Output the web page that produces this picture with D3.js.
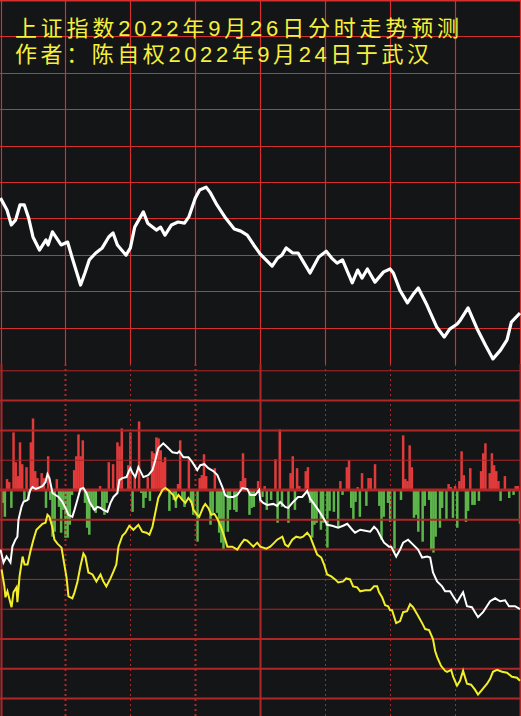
<!DOCTYPE html>
<html>
<head>
<meta charset="utf-8">
<script src="https://cdn.jsdelivr.net/npm/d3@7"></script>
<style>
  html, body { margin: 0; padding: 0; background: #141517; }
  svg { display: block; }
</style>
</head>
<body>
<div class="chart"></div>
<script>
// title lines
var titles = ["上证指数2022年9月26日分时走势预测", "作者：陈自权2022年9月24日于武汉"];

// minute ticks of the session (0 = 9:30, 120 = 11:30/13:00, 240 = 15:00)
var minuteTicks = [0, 30, 60, 90, 120, 150, 180, 210, 240];

// upper panel: forecast price line [minute, level] (panel units 0..100)
var priceLine = [
    [0, 45.6], [3, 42.3], [5, 38.2], [7, 39.6], [9, 43.7], [11, 43.7], [13, 40.1], [15, 34.9],
    [18, 31.3], [21, 34.1], [22, 32.7], [24, 36.3], [28, 32.7], [31, 33.5], [33, 29.4], [37, 21.7],
    [39, 25.0], [41, 28.6], [44, 30.5], [47, 31.9], [50, 34.9], [52, 36.0], [54, 32.7], [58, 29.9],
    [60, 31.9], [62, 37.6], [66, 41.8], [68, 38.7], [72, 36.8], [74, 37.6], [76, 35.4], [79, 38.2],
    [82, 39.0], [85, 38.7], [87, 40.4], [90, 45.6], [92, 47.8], [95, 48.6], [97, 47.0], [100, 43.7],
    [104, 40.1], [108, 37.1], [111, 36.5], [114, 35.4], [117, 32.7], [120, 30.2],
    [125.5, 26.9], [128, 29.1], [130, 29.9], [132, 31.9], [135, 30.5], [137.5, 30.5], [140, 28.0],
    [143, 25.0], [147, 29.4], [150.5, 31.0], [153, 29.1], [155.5, 27.7], [158, 28.6], [160, 25.8],
    [162.5, 22.3], [165, 25.8], [167, 23.6], [169.5, 26.1], [173, 22.5], [177, 25.3], [180, 26.1],
    [181.5, 25.0], [184.5, 20.3], [188, 16.8], [190.5, 19.0], [193, 20.9], [197, 16.2], [201.5, 10.2],
    [205, 7.4], [207.5, 9.6], [211, 11.0], [212.5, 12.1], [216, 15.4], [220, 9.9], [224, 5.2],
    [227.5, 1.4], [231, 3.8], [234, 6.6], [236, 11.5], [240, 14.0]
];

// lower panel: per-minute buy/sell bars [minute, value]
var volumeBars = [
    [3, 11], [4, 8], [6, 58], [7, 28], [8, 14], [9, 48], [10, 26], [12, 23], [14, 48], [15, 72],
    [16, 19], [17, 12], [19, 17], [20, 12], [22, 34], [26, 11], [34, 20], [35, 34], [36, 56], [37, 34],
    [38, 50], [46, 4], [50, 28], [52, 26], [54, 48], [55, 44], [56, 62], [59, 25], [60, 58], [62, 14],
    [64, 69], [68, 13], [70, 39], [71, 37], [72, 53], [73, 52], [74, 40], [75, 28], [76, 33], [82, 6],
    [83, 50], [87, 33], [92, 12], [93, 15], [94, 36], [95, 14], [99, 22], [111, 9], [112, 37], [113, 12],
    [119, 9], [122, 4], [127, 31], [129, 61], [134, 17], [135, 34], [137, 22], [138, 4], [141, 19],
    [142, 23], [157, 9], [160, 23], [161, 30], [165, 3], [167, 17], [170, 12], [171, 12], [173, 26],
    [186, 55], [187, 11], [188, 9], [189, 45], [190, 23], [207, 6], [208, 3], [210, 4], [212, 9],
    [213, 39], [214, 15], [217, 22], [222, 19], [223, 37], [224, 47], [226, 17], [227, 37], [228, 25],
    [229, 19], [230, 9], [233, 14], [238, 4], [239, 4],
    [1, -13], [2, -27], [5, -18], [11, -12], [13, -10], [21, -18], [23, -10], [24, -47], [25, -42],
    [27, -17], [28, -43], [29, -20], [30, -48], [31, -48], [32, -35], [33, -5], [39, -13], [40, -38],
    [41, -45], [42, -17], [43, -20], [44, -23], [47, -18], [48, -25], [49, -13], [61, -22], [65, -3],
    [66, -18], [67, -8], [69, -11], [78, -21], [80, -10], [81, -18], [84, -10], [85, -17], [88, -13],
    [89, -25], [91, -52], [97, -35], [98, -25], [100, -23], [101, -43], [102, -53], [103, -60],
    [105, -42], [106, -20], [108, -20], [109, -22], [115, -25], [116, -18], [117, -17], [120, -13],
    [121, -7], [123, -20], [125, -10], [128, -33], [130, -17], [133, -33], [136, -20], [143, -13],
    [144, -48], [145, -35], [146, -33], [148, -40], [149, -33], [151, -58], [152, -21], [154, -22],
    [156, -38], [158, -5], [162, -18], [163, -30], [164, -12], [166, -27], [169, -16], [175, -16],
    [176, -50], [177, -27], [179, -13], [180, -32], [182, -62], [185, -10], [191, -28], [192, -25],
    [193, -42], [195, -52], [196, -16], [198, -10], [199, -60], [200, -63], [201, -47], [203, -38],
    [204, -18], [206, -29], [209, -28], [211, -38], [215, -32], [216, -21], [218, -15], [219, -15],
    [221, -11], [231, -11], [235, -8], [237, -5], [240, -34]
];

// lower panel: white line [minute, value]
var whiteLine = [
    [0, -60], [1.4, -73], [2.8, -67], [4.6, -73], [5.5, -57], [6.9, -50], [7.8, -47], [8.3, -30],
    [9.7, -17], [10.6, -12], [12.5, -10], [13.8, 0], [14.8, 3], [16.2, 1], [17.5, 2], [19.4, 4],
    [20.8, 8], [21.7, 16], [22.6, 12], [24, -3], [25.4, -5], [26.8, -7], [28.6, -12], [30, -18],
    [31.4, -25], [33.2, -27], [34.2, -20], [35.5, -10], [36.9, 1], [38.3, 2], [39.7, -3], [41.1, -12],
    [43.4, -20], [44.8, -17], [46.2, -18], [47.5, -20], [49.4, -22], [50.8, -13], [52.2, -7], [54, -3],
    [54.9, 10], [56.3, 12], [58.2, 13], [59.5, 20], [60, 22], [61, 17], [62.3, 13], [63.7, 23],
    [66, 13], [68.3, 15], [70.2, 20], [71.5, 30], [72.9, 42], [75.2, 47], [77.1, 43], [79.4, 38],
    [81.7, 37], [82.6, 39], [84.5, 33], [86.8, 33], [88.6, 28], [90.9, 20], [92.3, 25], [94.2, 26],
    [96, 22], [98.3, 19], [100.2, 15], [102.5, 3], [103.8, -5], [105.2, -7], [107.5, -7], [109.4, -5],
    [111.7, 2], [114, 1], [115.4, -5], [117.7, -5], [119.5, 0], [120, -10], [121.4, -13], [123.2, -15],
    [126, -14], [127.8, -16], [129.2, -12], [131.5, -17], [132.9, -18], [135.2, -12], [137.5, -7],
    [139.4, -7], [141.7, -1], [143.1, -9], [144.5, -13], [146.8, -20], [149.1, -28], [150.9, -35],
    [153.2, -36], [156, -38], [158.3, -36], [160.2, -34], [162.5, -40], [163.8, -43], [166.2, -40],
    [168.5, -41], [170.8, -42], [172.6, -37], [174, -40], [175.4, -46], [177.2, -53], [179.5, -57],
    [180.5, -57], [182.8, -67], [184.6, -60], [186, -53], [188.3, -50], [190.6, -55], [192.9, -60],
    [194.8, -68], [197.1, -67], [198.5, -68], [199.8, -83], [201.7, -92], [204, -97], [205.4, -102],
    [207.7, -102], [209.1, -107], [210.9, -113], [212.3, -108], [213.7, -103], [215.5, -117],
    [217.8, -118], [219.2, -123], [220.6, -128], [222.9, -123], [226.2, -112], [228.5, -109],
    [230.8, -112], [233.1, -111], [234.9, -117], [237.7, -117], [240, -120]
];

// lower panel: yellow line [minute, value]
var yellowLine = [
    [0.5, -80], [1.8, -97], [2.3, -108], [3.2, -102], [5.1, -118], [6, -103], [7.4, -98], [7.8, -113],
    [8.8, -87], [10.2, -67], [11.1, -75], [12.5, -75], [13.8, -62], [15.2, -50], [16.6, -40], [18, -37],
    [19.4, -34], [20.8, -33], [21.7, -25], [22.6, -27], [24, -38], [24.9, -50], [26.3, -54], [28.2, -58],
    [29.1, -70], [30.5, -88], [31.4, -107], [33.2, -109], [34.2, -103], [35.5, -93], [36.9, -77],
    [38.3, -64], [39.2, -67], [40.6, -83], [42.5, -85], [44.3, -92], [46.2, -85], [47.5, -92],
    [48.9, -97], [50.8, -89], [52.2, -82], [53.5, -75], [54.5, -57], [56.3, -46], [57.7, -43],
    [59.5, -36], [61.4, -40], [63.7, -35], [65.5, -42], [67.4, -43], [68.8, -45], [70.2, -37],
    [71.5, -23], [72.9, -8], [74.8, 0], [76.2, 2], [78, -1], [79.8, -5], [80.8, -10], [82.2, -5],
    [84, -10], [85.4, -13], [86.8, -8], [88.2, -12], [89.1, -20], [90.9, -25], [91.8, -27], [93.7, -17],
    [94.6, -14], [96, -18], [97.4, -25], [98.8, -24], [100.2, -29], [102, -38], [103.4, -47],
    [104.8, -57], [107.1, -57], [109.4, -60], [111.2, -54], [112.6, -50], [114, -51], [115.4, -54],
    [116.8, -57], [118.6, -53], [120, -57], [122.8, -59], [124.6, -57], [126.5, -53], [127.8, -50],
    [130.2, -47], [131.5, -55], [132.9, -57], [134.8, -50], [136.6, -47], [138.5, -48], [139.8, -47],
    [141.7, -43], [143.1, -47], [144.5, -55], [146.3, -65], [148.2, -68], [149.5, -75], [150.9, -85],
    [152.8, -87], [154.6, -90], [156, -93], [158.3, -92], [159.7, -89], [161.5, -90], [162.9, -97],
    [164.8, -98], [166.2, -102], [168.5, -101], [170.8, -101], [172.6, -97], [174, -97], [174.9, -103],
    [176.3, -108], [177.7, -116], [179.1, -117], [180, -121], [180.9, -121], [182.8, -134],
    [184.6, -132], [186, -123], [187.8, -122], [189.2, -115], [190.6, -118], [192.5, -125],
    [194.8, -134], [196.2, -140], [198, -141], [199.8, -150], [200.8, -162], [201.7, -168],
    [203.5, -177], [205.4, -182], [206.3, -183], [208.2, -181], [209.1, -188], [210.9, -197],
    [212.3, -192], [213.7, -182], [215.5, -195], [217.4, -196], [219.2, -201], [220.6, -206],
    [222.9, -200], [224.8, -195], [226.2, -190], [227.5, -183], [229.4, -181], [231.7, -183],
    [234, -184], [236.3, -188], [238.6, -189], [240, -192]
];

// grid levels
var priceGrid = [10, 20, 30, 40, 50, 60, 70, 80, 90, 100];
var lowerGrid = [120, 90, 60, 30, 0, -30, -60, -90, -120, -150, -180, -210];
var lowerGridWidth = [1, 2, 2, 1, 3, 2, 2, 1, 1, 2, 2, 2];

var width = 521,
    height = 716;

var svg = d3.select(".chart").append("svg")
    .attr("width", width)
    .attr("height", height);

svg.append("rect")
    .attr("width", width)
    .attr("height", height)
    .attr("fill", "#141517");

var x = d3.scaleLinear().domain([0, 240]).range([0.5, 520]);
var yTop = d3.scaleLinear().domain([0, 100]).range([364, 0]);
var yLow = d3.scaleLinear().domain([-228, 120]).range([716.5, 370.8]);

var topRed = "#d62f2f",
    lowRed = "#b02727";

// volume bars (under the grid)
svg.append("g").selectAll("rect")
    .data(volumeBars)
    .enter().append("rect")
    .attr("x", function (d) { return x(d[0]) - 1.2; })
    .attr("width", 2.5)
    .attr("y", function (d) { return d[1] > 0 ? yLow(d[1]) : yLow(0); })
    .attr("height", function (d) { return Math.abs(yLow(d[1]) - yLow(0)); })
    .attr("fill", function (d) { return d[1] > 0 ? "#e03a3a" : "#5db64a"; });

// upper grid
var gTop = svg.append("g");
gTop.selectAll("line.h")
    .data(priceGrid)
    .enter().append("line")
    .attr("x1", 0).attr("x2", width)
    .attr("y1", function (d) { return Math.round(yTop(d)) + 0.5; })
    .attr("y2", function (d) { return Math.round(yTop(d)) + 0.5; })
    .attr("stroke", topRed)
    .attr("stroke-width", function (d) { return d == 100 ? 2 : 1.2; });
gTop.selectAll("line.v")
    .data(minuteTicks)
    .enter().append("line")
    .attr("x1", function (d) { return Math.round(x(d)) + 0.5; })
    .attr("x2", function (d) { return Math.round(x(d)) + 0.5; })
    .attr("y1", 0).attr("y2", 364)
    .attr("stroke", topRed)
    .attr("stroke-width", 1.2);

// lower grid
var gLow = svg.append("g");
gLow.selectAll("line.h")
    .data(lowerGrid)
    .enter().append("line")
    .attr("x1", 0).attr("x2", width)
    .attr("y1", function (d) { return yLow(d); })
    .attr("y2", function (d) { return yLow(d); })
    .attr("stroke", lowRed)
    .attr("stroke-width", function (d, i) { return lowerGridWidth[i]; });
gLow.selectAll("line.v")
    .data(minuteTicks)
    .enter().append("line")
    .attr("x1", function (d) { return Math.round(x(d)) + 0.5; })
    .attr("x2", function (d) { return Math.round(x(d)) + 0.5; })
    .attr("y1", 364).attr("y2", height)
    .attr("stroke", lowRed)
    .attr("stroke-width", function (d) {
        if (d % 120 == 0) return 2;
        return (d == 30 || d == 90) ? 2 : 1;
    })
    .attr("stroke-dasharray", function (d) { return d % 120 == 0 ? null : "2,3"; });

// lines
var lineTop = d3.line()
    .x(function (d) { return x(d[0]); })
    .y(function (d) { return yTop(d[1]); });

var lineLow = d3.line()
    .x(function (d) { return x(d[0]); })
    .y(function (d) { return yLow(d[1]); });

svg.append("path")
    .attr("d", lineTop(priceLine))
    .attr("fill", "none")
    .attr("stroke", "#ffffff")
    .attr("stroke-width", 3.2)
    .attr("stroke-linejoin", "round");

svg.append("path")
    .attr("d", lineLow(yellowLine))
    .attr("fill", "none")
    .attr("stroke", "#f2ee2a")
    .attr("stroke-width", 2);

svg.append("path")
    .attr("d", lineLow(whiteLine))
    .attr("fill", "none")
    .attr("stroke", "#ffffff")
    .attr("stroke-width", 2);

// title, two lines (latin font first keeps the line box compact)
svg.selectAll("text.title")
    .data(titles)
    .enter().append("text")
    .attr("class", "title")
    .attr("x", 15)
    .attr("y", function (d, i) { return 36 + i * 26; })
    .attr("textLength", function (d, i) { return i == 0 ? 444 : 414; })
    .attr("lengthAdjust", "spacing")
    .attr("fill", "#f6f03a")
    .style("font-family", "'Liberation Sans', 'Noto Sans CJK SC', sans-serif")
    .style("font-size", "22px")
    .text(function (d) { return d; });
</script>
</body>
</html>
